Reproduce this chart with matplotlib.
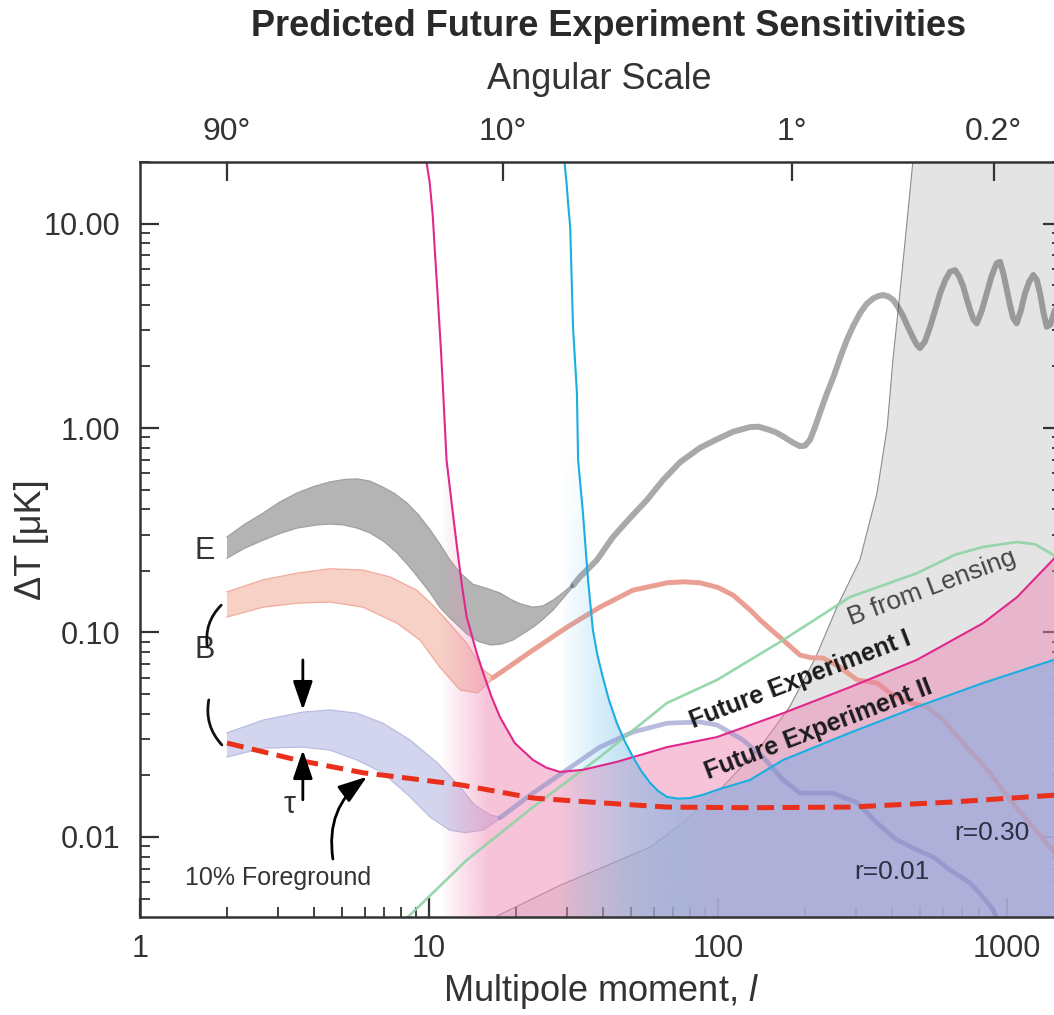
import numpy as np
import matplotlib
matplotlib.use("Agg")
import matplotlib.pyplot as plt
from matplotlib.patches import Polygon
from matplotlib.colors import to_rgb
from matplotlib.ticker import FixedLocator, FixedFormatter, LogLocator, NullLocator, NullFormatter

plt.rcParams['font.family'] = ['Liberation Sans', 'DejaVu Sans']
plt.rcParams['mathtext.fontset'] = 'custom'
plt.rcParams['mathtext.rm'] = 'Liberation Sans'
plt.rcParams['mathtext.it'] = 'Liberation Sans:italic'

# ---------------- data ----------------
# E-mode polarization: uncertainty band at low multipoles, then a single spectrum
e_hi_l = [2.0, 2.3, 2.67, 3.05, 3.49, 4.0, 4.54, 5.1, 5.63, 6.25, 6.93, 7.6, 8.39, 9.2, 10.1, 11.0, 11.8,
          12.8, 14.2, 15.9, 17.6, 19.2, 20.7, 22.9, 24.8, 26.9, 29.0, 31.5]
e_hi = [0.293, 0.338, 0.384, 0.435, 0.481, 0.518, 0.545, 0.560, 0.564, 0.550, 0.514, 0.478, 0.430, 0.376,
        0.317, 0.266, 0.227, 0.196, 0.172, 0.164, 0.156, 0.145, 0.138, 0.133, 0.135, 0.144, 0.156, 0.172]
e_lo_l = [2.0, 2.3, 2.67, 3.05, 3.49, 4.10, 4.55, 5.04, 5.6, 6.25, 7.0, 7.75, 8.5, 9.31, 10.1, 10.9, 11.8,
          12.8, 13.5, 14.8, 16.3, 17.8, 19.5, 21.0, 22.9, 24.8, 26.9, 29.0, 31.5]
e_lo = [0.231, 0.258, 0.283, 0.305, 0.324, 0.336, 0.339, 0.336, 0.325, 0.307, 0.278, 0.245, 0.212, 0.181,
        0.156, 0.133, 0.118, 0.106, 0.0985, 0.0905, 0.0869, 0.0878, 0.0918, 0.0980, 0.106, 0.116, 0.129,
        0.146, 0.168]
e_line_l = [31.5, 33.3, 38.1, 43.3, 49.6, 56.8, 64.5, 73.9, 86.6, 99.0, 113, 129, 138, 147, 158, 168, 180,
            192, 200, 208, 216, 225, 237, 251, 265, 279, 294, 310, 327, 345, 360, 373, 388, 404, 420, 438,
            455, 474, 488, 500, 520, 542, 565, 587, 612, 635, 661, 684, 706, 725, 745, 765, 786, 818, 851,
            885, 921, 946, 971, 997, 1024, 1050, 1080, 1117, 1154, 1194, 1233, 1268, 1301, 1336, 1372,
            1410, 1454, 1500, 1550]
e_line = [0.170, 0.187, 0.226, 0.293, 0.363, 0.445, 0.556, 0.68, 0.80, 0.88, 0.96, 1.01, 1.015, 0.99,
          0.955, 0.91, 0.855, 0.815, 0.82, 0.874, 1.00, 1.18, 1.45, 1.78, 2.22, 2.69, 3.17, 3.64, 4.05,
          4.31, 4.43, 4.47, 4.40, 4.23, 3.90, 3.50, 3.10, 2.75, 2.55, 2.46, 2.65, 3.13, 3.80, 4.56, 5.30,
          5.81, 5.92, 5.50, 4.91, 4.30, 3.78, 3.40, 3.25, 3.75, 4.56, 5.55, 6.40, 6.50, 5.71, 4.80, 4.00,
          3.45, 3.25, 3.75, 4.56, 5.20, 5.60, 5.30, 4.56, 3.70, 3.13, 3.20, 3.65, 4.2, 4.6]

# B-mode, r = 0.30
b30_hi_l = [2.0, 2.67, 3.49, 4.54, 5.91, 7.33, 9.08, 10.3, 11.5, 13.5, 15.4, 16.6]
b30_hi = [0.158, 0.181, 0.195, 0.205, 0.202, 0.187, 0.161, 0.136, 0.115, 0.0888, 0.0656, 0.0610]
b30_lo_l = [2.0, 2.67, 3.49, 4.54, 5.91, 7.75, 9.31, 10.9, 12.8, 14.7, 16.6]
b30_lo = [0.119, 0.133, 0.139, 0.141, 0.133, 0.111, 0.0918, 0.0677, 0.0524, 0.0506, 0.0590]
b30_line_l = [16.6, 17.6, 22.9, 30.0, 39.0, 50.8, 66.6, 76, 86.6, 100, 113, 129, 140, 154, 168, 192, 210,
              231, 264, 303, 355, 394, 462, 528, 601, 727, 873, 1024, 1230, 1454, 1550]
b30_line = [0.060, 0.0634, 0.0820, 0.106, 0.133, 0.161, 0.175, 0.177, 0.175, 0.166, 0.152, 0.129, 0.115,
            0.102, 0.0918, 0.0776, 0.0752, 0.0750, 0.0677, 0.0586, 0.0566, 0.0506, 0.0452, 0.0433, 0.0373,
            0.0275, 0.0206, 0.0152, 0.0112, 0.00845, 0.0075]

# B-mode, r = 0.01
b01_hi_l = [2.0, 2.67, 3.66, 4.54, 5.63, 6.93, 8.60, 10.7, 12.8, 14.4, 16.3, 17.6]
b01_hi = [0.0323, 0.0373, 0.0408, 0.0418, 0.0403, 0.0360, 0.0298, 0.0230, 0.0176, 0.0143, 0.0128, 0.0125]
b01_lo_l = [2.0, 2.67, 3.66, 4.54, 5.63, 6.93, 8.60, 10.1, 11.8, 13.3, 15.4, 17.6]
b01_lo = [0.0246, 0.0272, 0.0275, 0.0266, 0.0238, 0.0206, 0.0157, 0.0125, 0.0108, 0.0105, 0.0108, 0.0123]
b01_line_l = [17.6, 22.9, 30.0, 39.0, 50.8, 66.6, 86.6, 99.2, 122, 143, 168, 192, 220, 250, 303, 355, 416,
              488, 555, 635, 745, 826, 895, 950]
b01_line = [0.0124, 0.0164, 0.0213, 0.0275, 0.0326, 0.0360, 0.0365, 0.0353, 0.0298, 0.0246, 0.0190, 0.0164,
            0.0164, 0.0164, 0.0147, 0.0117, 0.00967, 0.00864, 0.00798, 0.00690, 0.00596, 0.00509, 0.00440, 0.0037]

# B-mode from gravitational lensing
lens_l = [7.9, 13.5, 22.9, 39.0, 66.6, 99.2, 168, 286, 488, 661, 826, 1084, 1250, 1408, 1550]
lens = [0.0037, 0.0077, 0.0140, 0.0246, 0.0452, 0.0586, 0.0918, 0.149, 0.195, 0.240, 0.262, 0.277, 0.270, 0.245, 0.225]

# Sensitivity of future experiment I
exp1_l = [9.77, 9.84, 10.05, 10.3, 10.5, 10.7, 11.0, 11.2, 11.5, 12.0, 12.5, 13.0, 13.5, 13.9, 14.6, 15.4,
          16.5, 17.6, 19.8, 22.9, 25.5, 28.4, 34.1, 44.7, 66.6, 99.2, 168, 286, 488, 826, 1084, 1443, 1588]
exp1 = [22.8, 19.3, 16.0, 11.0, 7.0, 4.57, 2.40, 1.48, 0.698, 0.420, 0.262, 0.170, 0.119, 0.103, 0.080,
        0.0634, 0.048, 0.0386, 0.0288, 0.0238, 0.0218, 0.0208, 0.0213, 0.0233, 0.0275, 0.0308, 0.0403,
        0.0540, 0.0735, 0.111, 0.149, 0.227, 0.268]

# Sensitivity of future experiment II
exp2_l = [29.3, 29.5, 29.9, 30.3, 30.8, 31.5, 32.5, 32.8, 34.1, 35.5, 36.9, 38.3, 40.0, 42.0, 44.7, 47.5,
          50.8, 54.3, 58.2, 62.0, 66.6, 72.5, 80.0, 89.0, 99.2, 129, 168, 286, 488, 826, 1454, 1588]
exp2 = [22.8, 19.3, 16.0, 12.5, 9.62, 3.12, 1.48, 0.698, 0.384, 0.181, 0.103, 0.077, 0.0600, 0.0465,
        0.0360, 0.0295, 0.0246, 0.0210, 0.0184, 0.0168, 0.0157, 0.0154, 0.0155, 0.0161, 0.0170, 0.0190,
        0.0238, 0.0323, 0.0433, 0.0566, 0.0735, 0.0767]

# 10% polarized foreground residual
fg_l = [2.0, 3.49, 5.91, 7.93, 12.8, 22.9, 39.0, 66.6, 129, 286, 635, 1454, 1588]
fg = [0.0288, 0.0238, 0.0206, 0.0196, 0.0180, 0.0155, 0.0147, 0.0140, 0.0139, 0.0140, 0.0148, 0.0160, 0.0162]

# Edge of the region already excluded by current measurements
excl_l = [14.8, 28.4, 58.2, 75.5, 99, 140, 177, 218, 258, 310, 355, 385, 403, 426, 449, 473, 490]
excl = [0.0037, 0.0058, 0.0089, 0.0117, 0.0164, 0.0275, 0.0433, 0.0758, 0.133, 0.227, 0.481, 1.01, 2.15,
        4.57, 9.61, 20.5, 32.0]

# Angular scale axis
ang_l = [2, 18, 180, 900]
ang_labels = ['90°', '10°', '1°', '0.2°']

y_ticks = [0.01, 0.1, 1.0, 10.0]
y_labels = ['0.01', '0.10', '1.00', '10.00']
x_ticks = [1, 10, 100, 1000]
x_labels = ['1', '10', '100', '1000']

XLIM = (1.0, 1550.0)
YLIM = (0.00406, 20.0)

# ---------------- figure ----------------
W, H = 1054, 1015
fig = plt.figure(figsize=(W / 100, H / 100), dpi=100)
fig.patch.set_facecolor('white')
ax = fig.add_axes([140 / W, (H - 917) / H, (1062 - 140) / W, (917 - 162) / H])
ax.set_xscale('log')
ax.set_yscale('log')
ax.set_xlim(*XLIM)
ax.set_ylim(*YLIM)
ax.set_autoscale_on(False)


def band(ax, hl, hv, ll, lv, face, edge, z):
    xs = list(hl) + list(ll)[::-1]
    ys = list(hv) + list(lv)[::-1]
    ax.fill(xs, ys, facecolor=face, edgecolor='none', zorder=z)
    ax.plot(hl, hv, color=edge, lw=0.9, zorder=z + 0.01)
    ax.plot(ll, lv, color=edge, lw=0.9, zorder=z + 0.01)


def gradient_under(ax, lx, ly, l0, l1, c0, c1, amax, z, vfade=None):
    verts = list(zip(lx, ly)) + [(lx[-1], 1e-4), (lx[0], 1e-4)]
    poly = Polygon(verts, closed=True, facecolor='none', edgecolor='none')
    ax.add_patch(poly)
    nx, ny = 800, 400
    fx = np.linspace(0, 1, nx)
    fy = np.linspace(0, 1, ny)
    lgx = np.log10(XLIM[0]) + fx * (np.log10(XLIM[1]) - np.log10(XLIM[0]))
    lgy = np.log10(YLIM[0]) + fy * (np.log10(YLIM[1]) - np.log10(YLIM[0]))
    t = np.clip((lgx - np.log10(l0)) / (np.log10(l1) - np.log10(l0)), 0, 1)
    c0 = np.array(to_rgb(c0))
    c1 = np.array(to_rgb(c1))
    rgb = c0[None, :] * (1 - t[:, None]) + c1[None, :] * t[:, None]
    img = np.zeros((ny, nx, 4))
    img[:, :, :3] = rgb[None, :, :]
    a = amax * t[None, :] * np.ones((ny, 1))
    if vfade is not None:
        vlo, vhi, tmax = vfade
        s = np.clip((np.log10(vhi) - lgy) / (np.log10(vhi) - np.log10(vlo)), 0, 1)
        # vertical fade only where the horizontal ramp is still low
        w = np.clip(t / tmax, 0, 1)[None, :]
        a = a * (w + (1 - w) * s[:, None])
    img[:, :, 3] = a
    im = ax.imshow(img, extent=(0, 1, 0, 1), transform=ax.transAxes, origin='lower',
                   aspect='auto', interpolation='bilinear', zorder=z)
    im.set_clip_path(poly)
    ax.set_xlim(*XLIM)
    ax.set_ylim(*YLIM)


# excluded region (light grey)
ex_x = list(excl_l) + [5000, 5000]
ex_y = list(excl) + [100, 1e-4]
ax.fill(ex_x, ex_y, facecolor='#e4e4e4', edgecolor='none', zorder=1)
ax.plot(excl_l, excl, color='#8c8c8c', lw=0.8, zorder=1.1)

# spectra bands
band(ax, e_hi_l, e_hi, e_lo_l, e_lo, '#b4b4b4', '#a0a0a0', 2)
band(ax, b30_hi_l, b30_hi, b30_lo_l, b30_lo, '#f7d0c6', '#f1ab9c', 2.1)
band(ax, b01_hi_l, b01_hi, b01_lo_l, b01_lo, '#d3d5ee', '#b9bde2', 2.2)

ax.plot(e_line_l, e_line, color='#3c3c3c', alpha=0.44, lw=4.3, solid_capstyle='round',
        solid_joinstyle='round', zorder=2.5)
ax.plot(b30_line_l, b30_line, color='#f3ab9c', lw=3.6, solid_capstyle='round',
        solid_joinstyle='round', zorder=2.5)

# sensitivity regions
gradient_under(ax, exp1_l, exp1, 10.9, 16.0, '#ee88b4', '#ee88b4', 0.5, 3)
gradient_under(ax, exp2_l, exp2, 28.0, 87.0, '#3cc0f0', '#a4b0dc', 0.85, 3.5, vfade=(0.1, 0.7, 0.4))

# B-mode spectra lines seen through the regions
ax.plot(b30_line_l, b30_line, color='#c87878', alpha=0.22, lw=3.2, solid_capstyle='round',
        solid_joinstyle='round', zorder=3.8)
ax.plot(b01_line_l, b01_line, color='#8a8cc8', alpha=0.6, lw=3.4, solid_capstyle='round',
        solid_joinstyle='round', zorder=3.8)

ax.plot(lens_l, lens, color='#8ed3a5', lw=1.9, alpha=0.9, zorder=4)
ax.plot(exp1_l, exp1, color='#e0288c', lw=1.5, zorder=5)
ax.plot(exp2_l, exp2, color='#1aaee2', lw=1.5, zorder=5)
ax.plot(fg_l, fg, color='#e8301c', lw=3.6, dashes=(3.4, 1.7), dash_capstyle='butt', zorder=6)

# ---------------- annotations ----------------
txt = '#333333'
ax.text(1.68, 0.251, 'E', fontsize=22, color=txt, ha='center', va='center', zorder=7)
ax.text(1.68, 0.082, 'B', fontsize=22, color=txt, ha='center', va='center', zorder=7)
ax.annotate('', xy=(1.71, 0.0849), xytext=(1.91, 0.136),
            arrowprops=dict(arrowstyle='-', lw=2.0, color='#111111',
                            connectionstyle='arc3,rad=0.25', shrinkA=0, shrinkB=0), zorder=7)
ax.annotate('', xy=(1.92, 0.0282), xytext=(1.73, 0.0468),
            arrowprops=dict(arrowstyle='-', lw=2.0, color='#111111',
                            connectionstyle='arc3,rad=0.25', shrinkA=0, shrinkB=0), zorder=7)
head = '-|>,head_length=0.7,head_width=0.24'
ax.annotate('', xy=(3.66, 0.0418), xytext=(3.66, 0.0734),
            arrowprops=dict(arrowstyle=head, lw=2.0, color='black', mutation_scale=25,
                            shrinkA=0, shrinkB=0), zorder=7)
ax.annotate('', xy=(3.66, 0.0266), xytext=(3.66, 0.0152),
            arrowprops=dict(arrowstyle=head, lw=2.0, color='black', mutation_scale=25,
                            shrinkA=0, shrinkB=0), zorder=7)
ax.text(3.30, 0.0143, 'τ', fontsize=22, color=txt, ha='center', va='center', zorder=7)
ax.annotate('', xy=(6.10, 0.0197), xytext=(4.65, 0.0078),
            arrowprops=dict(arrowstyle=head, lw=2.0, color='black', mutation_scale=25,
                            connectionstyle='arc3,rad=-0.3', shrinkA=0, shrinkB=0), zorder=7)
ax.text(3.0, 0.0063, '10% Foreground', fontsize=18, color=txt, ha='center', va='center', zorder=7)

ax.text(550, 0.165, 'B from Lensing', fontsize=19, color='#444444', rotation=20.5,
        ha='center', va='center', rotation_mode='anchor', zorder=7)
ax.text(192, 0.0586, 'Future Experiment I', fontsize=18, fontweight='bold', color='#1c1c1c',
        rotation=21, ha='center', va='center', rotation_mode='anchor', zorder=7)
ax.text(222, 0.0334, 'Future Experiment II', fontsize=18, fontweight='bold', color='#1c1c1c',
        rotation=21, ha='center', va='center', rotation_mode='anchor', zorder=7)
ax.text(888, 0.0105, 'r=0.30', fontsize=19, color='#2e2e44', ha='center', va='center', zorder=7)
ax.text(400, 0.00675, 'r=0.01', fontsize=19, color='#2e2e44', ha='center', va='center', zorder=7)

# ---------------- axes styling ----------------
spine_c = '#333333'
for s in ax.spines.values():
    s.set_color(spine_c)
    s.set_linewidth(1.8)
    s.set_zorder(8)

ax.yaxis.set_major_locator(FixedLocator(y_ticks))
ax.yaxis.set_major_formatter(FixedFormatter(y_labels))
ax.yaxis.set_minor_locator(LogLocator(base=10, subs=np.arange(2, 10), numticks=20))
ax.yaxis.set_minor_formatter(NullFormatter())
ax.xaxis.set_major_locator(FixedLocator(x_ticks))
ax.xaxis.set_major_formatter(FixedFormatter(x_labels))
ax.xaxis.set_minor_locator(LogLocator(base=10, subs=np.arange(2, 10), numticks=20))
ax.xaxis.set_minor_formatter(NullFormatter())

ax.tick_params(which='major', direction='in', length=13.5, width=1.6, color=spine_c,
               labelsize=22, labelcolor='#333333', top=False, right=True, bottom=True, left=True)
ax.tick_params(axis='y', which='major', pad=14)
ax.tick_params(axis='x', which='major', pad=12)
ax.tick_params(which='minor', direction='in', length=7, width=1.3, color=spine_c,
               top=False, right=True, bottom=True, left=True)

ax.set_xlabel('Multipole moment, $\\mathit{l}$', fontsize=26, color='#333333', labelpad=6)
ax.set_ylabel('ΔT [μK]', fontsize=26, color='#333333', labelpad=-4)

ax2 = ax.twiny()
ax2.set_xscale('log')
ax2.set_xlim(*XLIM)
ax2.xaxis.set_major_locator(FixedLocator(ang_l))
ax2.xaxis.set_major_formatter(FixedFormatter(ang_labels))
ax2.xaxis.set_minor_locator(NullLocator())
ax2.tick_params(axis='x', which='major', direction='in', length=13.5, width=1.6, color=spine_c,
                labelsize=23, labelcolor='#333333', pad=11, top=True, bottom=False,
                labeltop=True, labelbottom=False)
for s in ax2.spines.values():
    s.set_visible(False)

fig.text(609 / W, 1 - 27 / H, 'Predicted Future Experiment Sensitivities', fontsize=26,
         fontweight='bold', color='#2a2a2a', ha='center', va='center')
fig.text(599 / W, 1 - 79 / H, 'Angular Scale', fontsize=26, color='#333333', ha='center', va='center')

fig.savefig('out.png', dpi=100)
